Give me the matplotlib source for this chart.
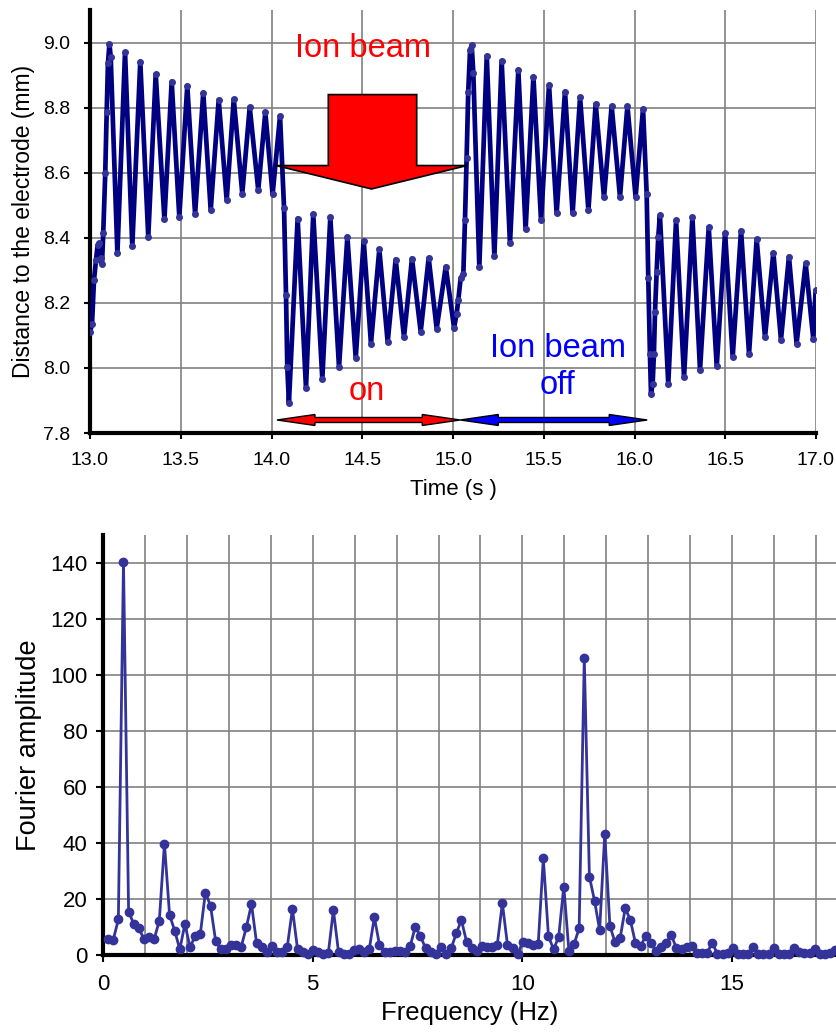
import matplotlib
matplotlib.use("Agg")
import matplotlib.pyplot as plt
from matplotlib.patches import Polygon
from matplotlib.ticker import MultipleLocator
import numpy as np

plt.rcParams['font.family'] = ['Liberation Sans', 'DejaVu Sans']

# ---------------- Top panel: distance vs time (peaks/troughs)
time_s = [13.000, 13.011, 13.022, 13.033, 13.042, 13.051, 13.059, 13.066, 13.073, 13.084,
          13.092, 13.099, 13.107, 13.114, 13.151, 13.193, 13.233, 13.277, 13.321, 13.362,
          13.410, 13.450, 13.492, 13.536, 13.579, 13.624, 13.665, 13.709, 13.753, 13.792,
          13.839, 13.880, 13.927, 13.966, 14.006, 14.047, 14.069, 14.080, 14.087, 14.096,
          14.144, 14.190, 14.230, 14.280, 14.324, 14.372, 14.418, 14.464, 14.508, 14.548,
          14.594, 14.640, 14.684, 14.730, 14.774, 14.822, 14.866, 14.910, 14.960, 15.006,
          15.020, 15.029, 15.042, 15.057, 15.066, 15.075, 15.084, 15.094, 15.103, 15.112,
          15.145, 15.186, 15.228, 15.268, 15.314, 15.360, 15.400, 15.443, 15.485, 15.529,
          15.571, 15.617, 15.659, 15.700, 15.746, 15.786, 15.832, 15.874, 15.920, 15.961,
          16.006, 16.047, 16.067, 16.076, 16.085, 16.091, 16.100, 16.107, 16.113, 16.122,
          16.131, 16.140, 16.186, 16.229, 16.273, 16.319, 16.361, 16.409, 16.453, 16.499,
          16.541, 16.587, 16.631, 16.673, 16.719, 16.765, 16.807, 16.851, 16.893, 16.943,
          16.985, 16.998]
distance_mm = [8.111, 8.134, 8.270, 8.331, 8.377, 8.383, 8.339, 8.318, 8.416, 8.598,
               8.788, 8.936, 8.995, 8.957, 8.352, 8.970, 8.374, 8.941, 8.403, 8.903,
               8.457, 8.880, 8.465, 8.867, 8.473, 8.846, 8.485, 8.824, 8.516, 8.826,
               8.536, 8.801, 8.547, 8.785, 8.533, 8.774, 8.493, 8.224, 8.003, 7.893,
               8.459, 7.939, 8.472, 7.967, 8.463, 8.003, 8.403, 8.031, 8.391, 8.075,
               8.364, 8.080, 8.333, 8.095, 8.336, 8.111, 8.338, 8.121, 8.311, 8.123,
               8.167, 8.208, 8.275, 8.290, 8.454, 8.644, 8.849, 8.977, 8.991, 8.906,
               8.311, 8.959, 8.344, 8.944, 8.383, 8.916, 8.426, 8.895, 8.454, 8.870,
               8.475, 8.849, 8.475, 8.832, 8.485, 8.811, 8.524, 8.805, 8.526, 8.805,
               8.526, 8.796, 8.536, 8.275, 8.044, 7.921, 7.952, 8.044, 8.172, 8.295,
               8.403, 8.470, 7.952, 8.454, 7.972, 8.463, 7.995, 8.432, 8.005, 8.416,
               8.034, 8.422, 8.044, 8.395, 8.095, 8.354, 8.087, 8.342, 8.075, 8.321,
               8.090, 8.239]

time_ticks = [13.0, 13.5, 14.0, 14.5, 15.0, 15.5, 16.0, 16.5, 17.0]
dist_ticks = [7.8, 8.0, 8.2, 8.4, 8.6, 8.8, 9.0]

# ---------------- Bottom panel: Fourier amplitude spectrum
freq_step_hz = 1 / 8.192
fourier_amp = [5.7, 5.4, 12.7, 140.5, 15.5, 11.1, 9.5, 5.7, 6.5, 5.7,
               12.3, 39.8, 14.3, 8.7, 2.0, 11.1, 2.7, 6.9, 7.4, 22.3,
               17.6, 5.0, 2.0, 2.0, 3.6, 3.6, 3.0, 9.9, 18.2, 4.2,
               2.7, 1.0, 3.3, 1.0, 1.2, 3.0, 16.5, 2.0, 1.2, 0.3,
               1.8, 1.0, 0.3, 0.6, 16.1, 1.0, 0.3, 0.3, 1.8, 2.0,
               1.2, 2.0, 13.5, 3.6, 1.0, 1.2, 1.4, 1.4, 1.2, 3.2,
               10.1, 6.8, 2.4, 1.2, 0.4, 2.7, 0.3, 2.4, 7.7, 12.5,
               4.8, 2.4, 1.5, 3.2, 2.7, 2.7, 3.6, 18.5, 3.6, 2.4,
               0.3, 4.8, 4.2, 3.6, 3.8, 34.5, 6.8, 2.0, 6.5, 24.4,
               1.4, 3.9, 9.5, 106.0, 28.0, 19.4, 8.9, 43.2, 10.5, 4.5,
               6.0, 16.7, 12.5, 4.2, 3.2, 6.8, 4.2, 1.4, 2.7, 4.4,
               7.1, 2.4, 2.0, 3.0, 3.2, 0.8, 0.6, 0.8, 4.4, 0.3,
               0.3, 0.6, 2.4, 0.3, 0.4, 0.4, 2.7, 0.4, 0.4, 0.3,
               2.4, 0.3, 0.4, 0.4, 2.4, 1.0, 0.6, 0.6, 2.0, 0.3,
               0.3, 0.6, 1.8]
freq_hz = np.arange(1, len(fourier_amp) + 1) * freq_step_hz
freq_ticks = [0, 5, 10, 15]
amp_ticks = [0, 20, 40, 60, 80, 100, 120, 140]

W, H = 837, 1032
fig = plt.figure(figsize=(W / 100, H / 100), dpi=100)

GRID = '#808080'

# ======== top axes
ax1 = fig.add_axes([90 / W, 1 - 433 / H, 726 / W, 423 / H])
ax1.set_xlim(13.0, 17.0)
ax1.set_ylim(7.8, 9.1)
ax1.set_xticks(time_ticks)
ax1.set_yticks(dist_ticks)
ax1.set_xticklabels([f"{v:.1f}" for v in time_ticks])
ax1.set_yticklabels([f"{v:.1f}" for v in dist_ticks])
ax1.grid(True, color=GRID, linewidth=1.2)
ax1.set_axisbelow(True)
for s in ['top', 'right']:
    ax1.spines[s].set_visible(False)
for s in ['left', 'bottom']:
    ax1.spines[s].set_linewidth(3.0)
    ax1.spines[s].set_color('black')
ax1.tick_params(axis='both', direction='out', length=4, width=1.5, labelsize=14, colors='black')
ax1.tick_params(axis='y', pad=10)
ax1.tick_params(axis='x', pad=10)
ax1.plot(time_s, distance_mm, color='#000080', linewidth=3.4, marker='o', markersize=4,
         markerfacecolor='#333399', markeredgecolor='#333399', zorder=3,
         solid_joinstyle='round', solid_capstyle='round')
ax1.set_xlabel('Time (s )', fontsize=16, labelpad=7)
ax1.set_ylabel('Distance to the electrode (mm)', fontsize=16.5, labelpad=6)

# block arrow
block = [(14.313, 8.840), (14.800, 8.840), (14.800, 8.622), (15.077, 8.622),
         (14.551, 8.550), (14.025, 8.622), (14.313, 8.622)]
ax1.add_patch(Polygon(block, closed=True, facecolor='#FF0000', edgecolor='black',
                      linewidth=1.2, zorder=5))

# double arrows
px_x = 4.0 / 726
px_y = 1.3 / 423


def dbl_arrow(ax, x0, x1, y, fc):
    hl = 38 * px_x
    hw = 5.5 * px_y
    sw = 2.5 * px_y
    verts = [(x0, y), (x0 + hl, y + hw), (x0 + hl, y + sw), (x1 - hl, y + sw),
             (x1 - hl, y + hw), (x1, y), (x1 - hl, y - hw), (x1 - hl, y - sw),
             (x0 + hl, y - sw), (x0 + hl, y - hw)]
    ax.add_patch(Polygon(verts, closed=True, facecolor=fc, edgecolor='black',
                         linewidth=1.0, zorder=6, clip_on=False))


dbl_arrow(ax1, 14.03, 15.04, 7.840, '#FF0000')
dbl_arrow(ax1, 15.04, 16.07, 7.840, '#0000FF')

ax1.text(14.505, 8.956, 'Ion beam', color='#FF0000', fontsize=23.5, ha='center', va='baseline', zorder=7)
ax1.text(14.526, 7.902, 'on', color='#FF0000', fontsize=23.5, ha='center', va='baseline', zorder=7)
ax1.text(15.576, 8.035, 'Ion beam', color='#0000FF', fontsize=23.5, ha='center', va='baseline', zorder=7)
ax1.text(15.576, 7.919, 'off', color='#0000FF', fontsize=23.5, ha='center', va='baseline', zorder=7)

# ======== bottom axes
ax2 = fig.add_axes([103 / W, 1 - 955 / H, (W - 103) / W, 420 / H])
ax2.set_xlim(0, 17.5)
ax2.set_ylim(0, 150)
ax2.set_xticks(freq_ticks)
ax2.set_yticks(amp_ticks)
ax2.xaxis.set_minor_locator(MultipleLocator(1))
ax2.grid(True, which='both', color=GRID, linewidth=1.2)
ax2.set_axisbelow(True)
for s in ['top', 'right']:
    ax2.spines[s].set_visible(False)
for s in ['left', 'bottom']:
    ax2.spines[s].set_linewidth(3.0)
    ax2.spines[s].set_color('black')
ax2.tick_params(axis='both', which='major', direction='out', length=5, width=1.5,
                labelsize=16, colors='black')
ax2.tick_params(axis='x', which='minor', length=0)
ax2.tick_params(axis='y', pad=6)
ax2.tick_params(axis='x', pad=9)
ax2.plot(freq_hz, fourier_amp, color='#333399', linewidth=2.0, marker='o', markersize=6,
         markerfacecolor='#333399', markeredgecolor='#333399', zorder=4, clip_on=False)
ax2.set_xlabel('Frequency (Hz)', fontsize=18.5, labelpad=4)
ax2.set_ylabel('Fourier amplitude', fontsize=19.5, labelpad=6)

fig.savefig('out.png', dpi=100)
